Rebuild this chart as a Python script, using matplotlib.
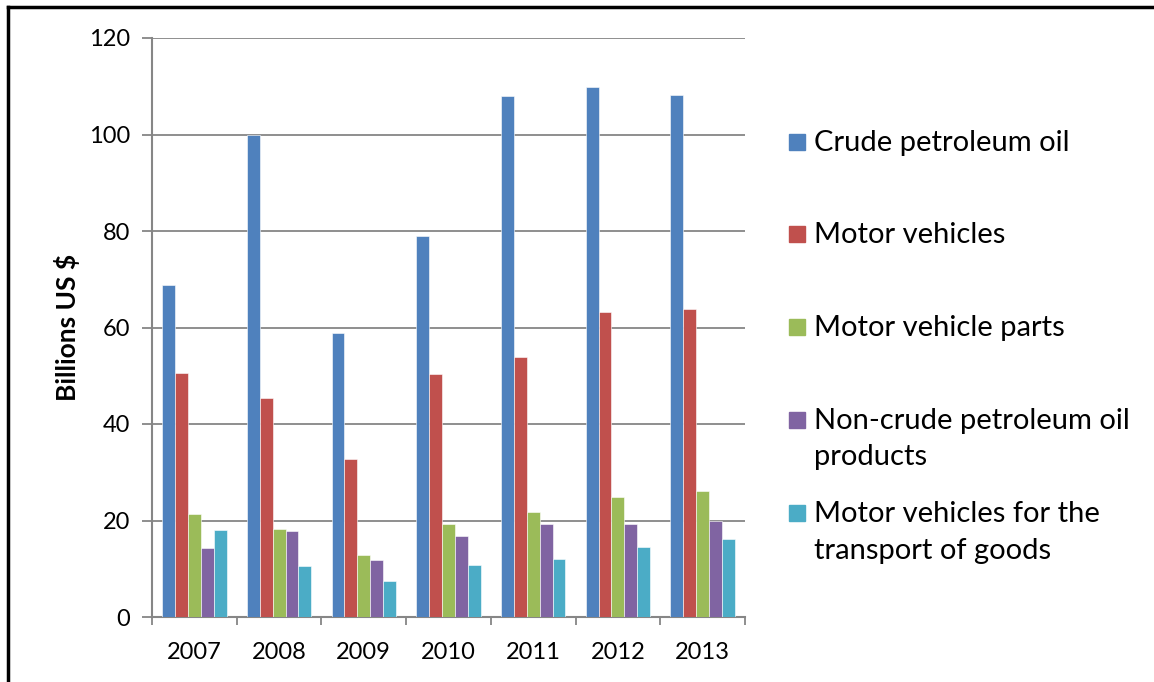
import numpy as np
import matplotlib
matplotlib.use("Agg")
import matplotlib.pyplot as plt
from matplotlib.patches import Rectangle
from matplotlib.lines import Line2D

plt.rcParams['font.family'] = ['Lato', 'DejaVu Sans']

anos = ['2007', '2008', '2009', '2010', '2011', '2012', '2013']
series = ['Crude petroleum oil', 'Motor vehicles', 'Motor vehicle parts',
          'Non-crude petroleum oil\nproducts', 'Motor vehicles for the\ntransport of goods']
crude = [68.8, 100.0, 58.9, 78.9, 107.9, 109.8, 108.2]
veiculos = [50.5, 45.4, 32.8, 50.3, 53.9, 63.3, 63.8]
pecas = [21.4, 18.3, 12.8, 19.2, 21.8, 24.8, 26.1]
nao_crude = [14.3, 17.8, 11.8, 16.8, 19.2, 19.2, 19.8]
transporte = [18.0, 10.5, 7.5, 10.8, 12.1, 14.5, 16.1]
cores = ['#4F81BD', '#C0504D', '#9BBB59', '#8064A2', '#4BACC6']

valores = [crude, veiculos, pecas, nao_crude, transporte]

fig = plt.figure(figsize=(11.54, 6.82), dpi=100)
ax = fig.add_axes([152/1154, 1 - 617/682, (745-152)/1154, (617-38)/682])

x = np.arange(len(anos))
larg = 0.152
for i, (v, c) in enumerate(zip(valores, cores)):
    ax.bar(x + (i - 2) * larg, v, width=larg, color=c, edgecolor='white', linewidth=0.4, zorder=3)

ax.set_xlim(-0.5, len(anos) - 0.5)
ax.set_ylim(0, 120)
ax.set_yticks(range(0, 121, 20))
ax.yaxis.grid(True, color='#868686', linewidth=1.3, zorder=0)
ax.set_xticks(x)
ax.set_xticklabels(anos, fontsize=17)
ax.set_xticks(np.arange(-0.5, len(anos)), minor=True)
ax.tick_params(axis='x', which='major', length=0, pad=18)
ax.tick_params(axis='x', which='minor', length=6, color='#868686', width=1.3, direction='out')
ax.tick_params(axis='y', length=7, color='#868686', width=1.3, labelsize=17, pad=9)
for s in ['top', 'right']:
    ax.spines[s].set_visible(False)
for s in ['left', 'bottom']:
    ax.spines[s].set_color('#868686')
    ax.spines[s].set_linewidth(1.5)
ax.set_ylabel('Billions US $', fontsize=19, fontweight='bold', labelpad=6)

# legenda
ys = [142, 234, 327, 420, 513]
for nome, c, yy in zip(series, cores, ys):
    fig.patches.append(Rectangle(((789)/1154, 1 - (yy + 8)/682), 16/1154, 16/682,
                                 color=c, transform=fig.transFigure))
    fig.text(814/1154, 1 - (yy - 12)/682, nome, fontsize=21, va='top', ha='left', linespacing=1.5,
             transform=fig.transFigure)

# moldura
fig.add_artist(Line2D([8/1154, 8/1154], [0, 1 - 7/682], color='black', linewidth=2.5, transform=fig.transFigure))
fig.add_artist(Line2D([8/1154, 1], [1 - 7/682, 1 - 7/682], color='black', linewidth=2.5, transform=fig.transFigure))

fig.savefig('out.png', dpi=100)
